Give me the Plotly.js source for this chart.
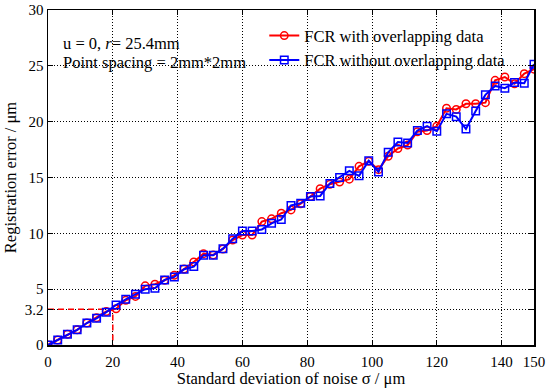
<!DOCTYPE html>
<html>
<head>
<meta charset="utf-8">
<script src="https://cdn.plot.ly/plotly-3.0.1.min.js"></script>
<style>html,body{margin:0;padding:0;background:#fff;}#chart{width:550px;height:390px;}</style>
</head>
<body>
<div id="chart"></div>
<script>
var sigma = [0,3,6,9,12,15,18,21,24,27,30,33,36,39,42,45,48,51,54,57,60,63,66,69,72,75,78,81,84,87,90,93,96,99,102,105,108,111,114,117,120,123,126,129,132,135,138,141,144,147,150];
var errWith = [0,0.45,0.97,1.36,1.97,2.45,3.0,3.25,4.0,4.35,5.3,5.45,5.8,6.25,6.8,7.44,8.18,8.07,8.6,9.4,9.85,9.85,11.05,11.3,11.8,12.1,12.65,13.3,14.0,14.4,14.6,14.85,16.0,16.45,15.7,16.9,17.6,17.9,19.1,19.2,19.6,21.2,21.1,21.6,21.6,21.7,23.7,24.0,23.4,24.3,24.7];
var errWithout = [0,0.45,0.97,1.36,1.97,2.39,2.94,3.58,4.09,4.55,5.0,5.09,5.83,6.1,6.79,7.02,8.04,8.04,8.63,9.52,10.2,10.2,10.35,10.9,11.24,12.5,12.7,13.3,13.35,14.47,15.0,15.6,15.15,16.5,15.5,17.26,18.18,18.1,19.2,19.6,19.15,20.7,20.45,19.35,20.95,22.4,23.2,23.0,23.5,23.45,25.15];
var seriesNames = ["FCR with overlapping data", "FCR without overlapping data"];
var xTicks = [0,20,40,60,80,100,120,140,150];
var yTicks = [0,3.2,5,10,15,20,25,30];
var markX = 20, markY = 3.2;

var font = "Liberation Serif, Times New Roman, serif";
var traces = [
  {x:[0,markX,markX], y:[markY,markY,0], mode:"lines", showlegend:false, hoverinfo:"skip",
   line:{color:"#ff0000", width:1.5, dash:"6px,4px"}},
  {x:sigma, y:errWith, name:seriesNames[0], mode:"lines+markers",
   line:{color:"#ff0000", width:2},
   marker:{symbol:"circle-open", size:7.5, color:"#ff0000", line:{width:1.5, color:"#ff0000"}}},
  {x:sigma, y:errWithout, name:seriesNames[1], mode:"lines+markers",
   line:{color:"#0000ff", width:2},
   marker:{symbol:"square-open", size:7.5, color:"#0000ff", line:{width:1.5, color:"#0000ff"}}}
];
var axisCommon = {
  showline:true, linecolor:"#000", linewidth:1.5, mirror:"ticks",
  ticks:"inside", ticklen:5, tickcolor:"#000", tickwidth:1,
  showgrid:true, gridcolor:"#000", gridwidth:1, griddash:"1px,2px",
  zeroline:false, tickfont:{family:font, size:15, color:"#000"}
};
var layout = {
  width:550, height:390,
  margin:{l:48, r:16, t:10, b:45},
  paper_bgcolor:"#fff", plot_bgcolor:"#fff",
  font:{family:font, size:15, color:"#000"},
  xaxis:Object.assign({}, axisCommon, {range:[0,150], tickmode:"array", tickvals:xTicks, ticklabelstandoff:2,
    title:{text:"Standard deviation of noise σ / μm", font:{family:font, size:16.5}, standoff:2}}),
  yaxis:Object.assign({}, axisCommon, {range:[0,30], tickmode:"array", tickvals:yTicks,
    title:{text:"Registration error / μm", font:{family:font, size:16.5}, standoff:4}}),
  legend:{x:0.445, y:0.975, xanchor:"left", yanchor:"top", bgcolor:"rgba(255,255,255,0)",
    borderwidth:0, font:{family:font, size:16.5}, tracegroupgap:0},
  annotations:[
    {xref:"paper", yref:"paper", x:0.027, y:0.899, xanchor:"left", yanchor:"middle", showarrow:false,
     text:"u = 0, <i>r</i>= 25.4mm", font:{family:font, size:16.5}},
    {xref:"paper", yref:"paper", x:0.027, y:0.842, xanchor:"left", yanchor:"middle", showarrow:false,
     text:"Point spacing = 2mm*2mm", font:{family:font, size:16.5}}
  ],
  showlegend:true
};
Plotly.newPlot("chart", traces, layout, {displayModeBar:false, staticPlot:true});
</script>
</body>
</html>
